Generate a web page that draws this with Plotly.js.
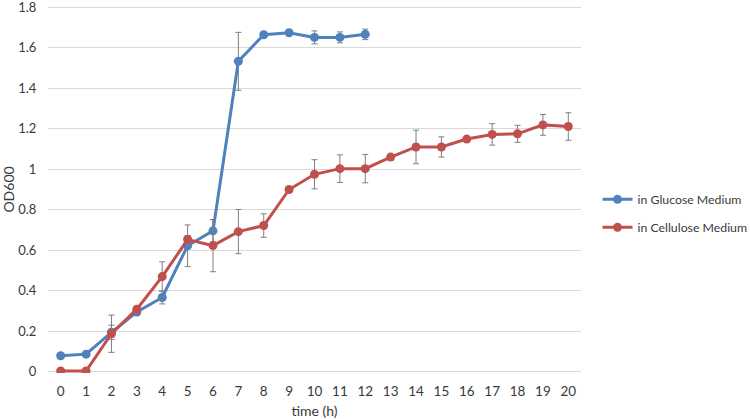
<!DOCTYPE html>
<html>
<head>
<meta charset="utf-8">
<script src="https://cdn.plot.ly/plotly-3.0.1.min.js"></script>
<style>html,body{margin:0;padding:0;background:#fff;}#chart{width:750px;height:419px;}</style>
</head>
<body>
<div id="chart"></div>
<script>
const timeGlucose = [0,1,2,3,4,5,6,7,8,9,10,11,12];
const odGlucose = [0.079,0.087,0.195,0.295,0.367,0.622,0.696,1.533,1.664,1.674,1.651,1.651,1.666];
const errGlucose = [0.008,0.008,0.035,0.015,0.032,0.103,0.055,0.143,0.008,0.008,0.032,0.027,0.026];

const timeCellulose = [0,1,2,3,4,5,6,7,8,9,10,11,12,13,14,15,16,17,18,19,20];
const odCellulose = [0.004,0.004,0.188,0.309,0.470,0.653,0.623,0.692,0.722,0.900,0.975,1.003,1.003,1.060,1.110,1.110,1.149,1.172,1.175,1.219,1.211];
const errCellulose = [0.004,0.004,0.092,0.012,0.073,0.02,0.129,0.109,0.058,0.012,0.072,0.068,0.070,0.012,0.083,0.050,0.010,0.053,0.042,0.051,0.068];

const xTicks = timeCellulose;
const yTicks = [0,0.2,0.4,0.6,0.8,1,1.2,1.4,1.6,1.8];
const yTickText = ['0','0.2','0.4','0.6','0.8','1','1.2','1.4','1.6','1.8'];

const font = 'Lato, "Liberation Sans", sans-serif';
const txt = '#3a3a3a';
const errStyle = {type:'data', visible:true, color:'#7f7f7f', thickness:1, width:3};

const traces = [
  {x: timeGlucose, y: odGlucose, name: 'in Glucose Medium', type:'scatter', mode:'lines+markers',
   legendgroup:'g', line:{color:'#4f81bd', width:3}, marker:{color:'#4f81bd', size:9},
   error_y: Object.assign({array: errGlucose}, errStyle)},
  {x: timeCellulose, y: odCellulose, name: 'in Cellulose Medium', type:'scatter', mode:'lines+markers',
   legendgroup:'c', line:{color:'#c0504d', width:3}, marker:{color:'#c0504d', size:9},
   error_y: Object.assign({array: errCellulose}, errStyle)}
];

const layout = {
  width:750, height:419,
  margin:{l:48, r:169, t:6, b:46, autoexpand:false},
  paper_bgcolor:'#fff', plot_bgcolor:'#fff',
  font:{family:font, size:13, color:txt},
  showlegend:true,
  legend:{x:1.031, y:0.435, xanchor:'left', yanchor:'middle', font:{family:font, size:12.3, color:txt},
    bgcolor:'rgba(0,0,0,0)', tracegroupgap:9, itemwidth:30},
  xaxis:{range:[-0.5,20.5], tickmode:'array', tickvals:xTicks, ticktext:xTicks.map(String),
    showgrid:false, zeroline:false, showline:false, ticks:'outside', ticklen:6, tickcolor:'rgba(0,0,0,0)',
    tickfont:{size:13.5, color:txt},
    title:{text:'time (h)', font:{size:14, color:txt}, standoff:8}},
  yaxis:{range:[-0.006,1.806], tickmode:'array', tickvals:yTicks, ticktext:yTickText,
    showgrid:true, gridcolor:'#d9d9d9', gridwidth:1, zeroline:false, showline:false,
    ticks:'outside', ticklen:8, tickcolor:'rgba(0,0,0,0)', ticklabeloverflow:'allow',
    tickfont:{size:13, color:txt},
    title:{text:'OD600', font:{size:14, color:txt}, standoff:7}}
};

Plotly.newPlot('chart', traces, layout, {displayModeBar:false, staticPlot:true});
</script>
</body>
</html>
